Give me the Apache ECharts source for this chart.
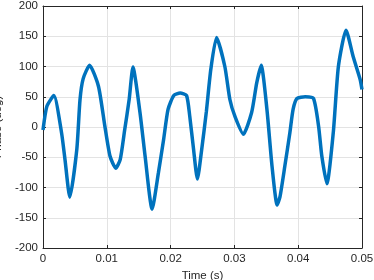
<!DOCTYPE html>
<html>
<head>
<meta charset="utf-8">
<script src="https://cdn.jsdelivr.net/npm/echarts@6/dist/echarts.min.js"></script>
<style>
html, body { margin: 0; padding: 0; background: #fff; }
#chart { width: 374px; height: 280px; }
</style>
</head>
<body>
<div id="chart"></div>
<script>
// values (centre of the noisy band)
var timeS = [0, 0.0006, 0.0017, 0.0029, 0.00345, 0.0042, 0.0053, 0.0058, 0.0063, 0.0073,
	0.0087, 0.0097, 0.0105, 0.0114, 0.0121, 0.0128, 0.0135, 0.0141, 0.0152, 0.0160,
	0.0171, 0.0181, 0.0189, 0.0196, 0.0205, 0.0215, 0.0225, 0.0230, 0.0236, 0.0242,
	0.0249, 0.0256, 0.0263, 0.0272, 0.0285, 0.0293, 0.0301, 0.0314, 0.0327, 0.0335,
	0.0342, 0.0351, 0.0359, 0.0367, 0.03715, 0.0379, 0.0387, 0.0392, 0.0398, 0.0411,
	0.0424, 0.0432, 0.0437, 0.0445, 0.0455, 0.0463, 0.0475, 0.0486, 0.0497, 0.0500];
var phaseDeg = [-5, 34, 52, -9, -54, -116, -37, 45, 80, 102,
	67, 1, -48, -68, -54, -5, 45, 99, 24, -48,
	-136, -75, -21, 29, 52, 56, 52, 18, -37, -86,
	-35, 25, 95, 148, 100, 45, 17, -12, 24, 73,
	102, 29, -65, -129, -115, -65, -9, 29, 47, 50,
	47, 1, -48, -94, -9, 100, 160, 117, 79, 62];
var xTicks = [0, 0.01, 0.02, 0.03, 0.04, 0.05];
var yTicks = [-200, -150, -100, -50, 0, 50, 100, 150, 200];

var axisColor = '#262626';
var gridColor = '#e3e3e3';
var fontFam = 'Liberation Sans, Arial, sans-serif';
var fontSz = 11.5;

var data = [];
for (var i = 0; i < timeS.length; i++) {
	data.push([timeS[i], phaseDeg[i]]);
}

function boxAxis(pos, ticks, step) {
	return {
		type : 'value',
		position : pos,
		min : ticks[0],
		max : ticks[ticks.length - 1],
		interval : step,
		axisLine : { show : true, onZero : false, lineStyle : { color : axisColor, width : 1 } },
		axisTick : { show : true, inside : true, length : 3, lineStyle : { color : axisColor } },
		axisLabel : { show : false },
		splitLine : { show : false }
	};
}

var myChart = echarts.init(document.getElementById('chart'));
var option = {
	animation : false,
	grid : {
		left : 43,
		right : 12,
		top : 6,
		bottom : 32,
		outerBoundsMode : 'none'
	},
	xAxis : [ {
		type : 'value',
		min : xTicks[0],
		max : xTicks[xTicks.length - 1],
		interval : 0.01,
		name : 'Time (s)',
		nameLocation : 'middle',
		nameGap : 20,
		nameTextStyle : { color : axisColor, fontSize : fontSz, fontFamily : fontFam },
		axisLine : { onZero : false, lineStyle : { color : axisColor, width : 1 } },
		axisTick : { inside : true, length : 3, lineStyle : { color : axisColor } },
		axisLabel : {
			color : axisColor, fontSize : fontSz, fontFamily : fontFam, margin : 5,
			formatter : function(v) { return +v.toFixed(2) + ''; }
		},
		splitLine : { show : true, lineStyle : { color : gridColor, width : 1 } }
	}, boxAxis('top', xTicks, 0.01) ],
	yAxis : [ {
		type : 'value',
		min : yTicks[0],
		max : yTicks[yTicks.length - 1],
		interval : 50,
		name : 'Phase (deg)',
		nameLocation : 'middle',
		nameGap : 30,
		nameTextStyle : { color : axisColor, fontSize : fontSz, fontFamily : fontFam },
		axisLine : { show : true, onZero : false, lineStyle : { color : axisColor, width : 1 } },
		axisTick : { show : true, inside : true, length : 3, lineStyle : { color : axisColor } },
		axisLabel : { color : axisColor, fontSize : fontSz, fontFamily : fontFam, margin : 5 },
		splitLine : { show : true, lineStyle : { color : gridColor, width : 1 } }
	}, boxAxis('right', yTicks, 50) ],
	series : [ {
		type : 'line',
		data : data,
		smooth : 0.2,
		showSymbol : false,
		lineStyle : { color : '#0072BD', width : 3.5 }
	} ]
};
myChart.setOption(option);
</script>
</body>
</html>
